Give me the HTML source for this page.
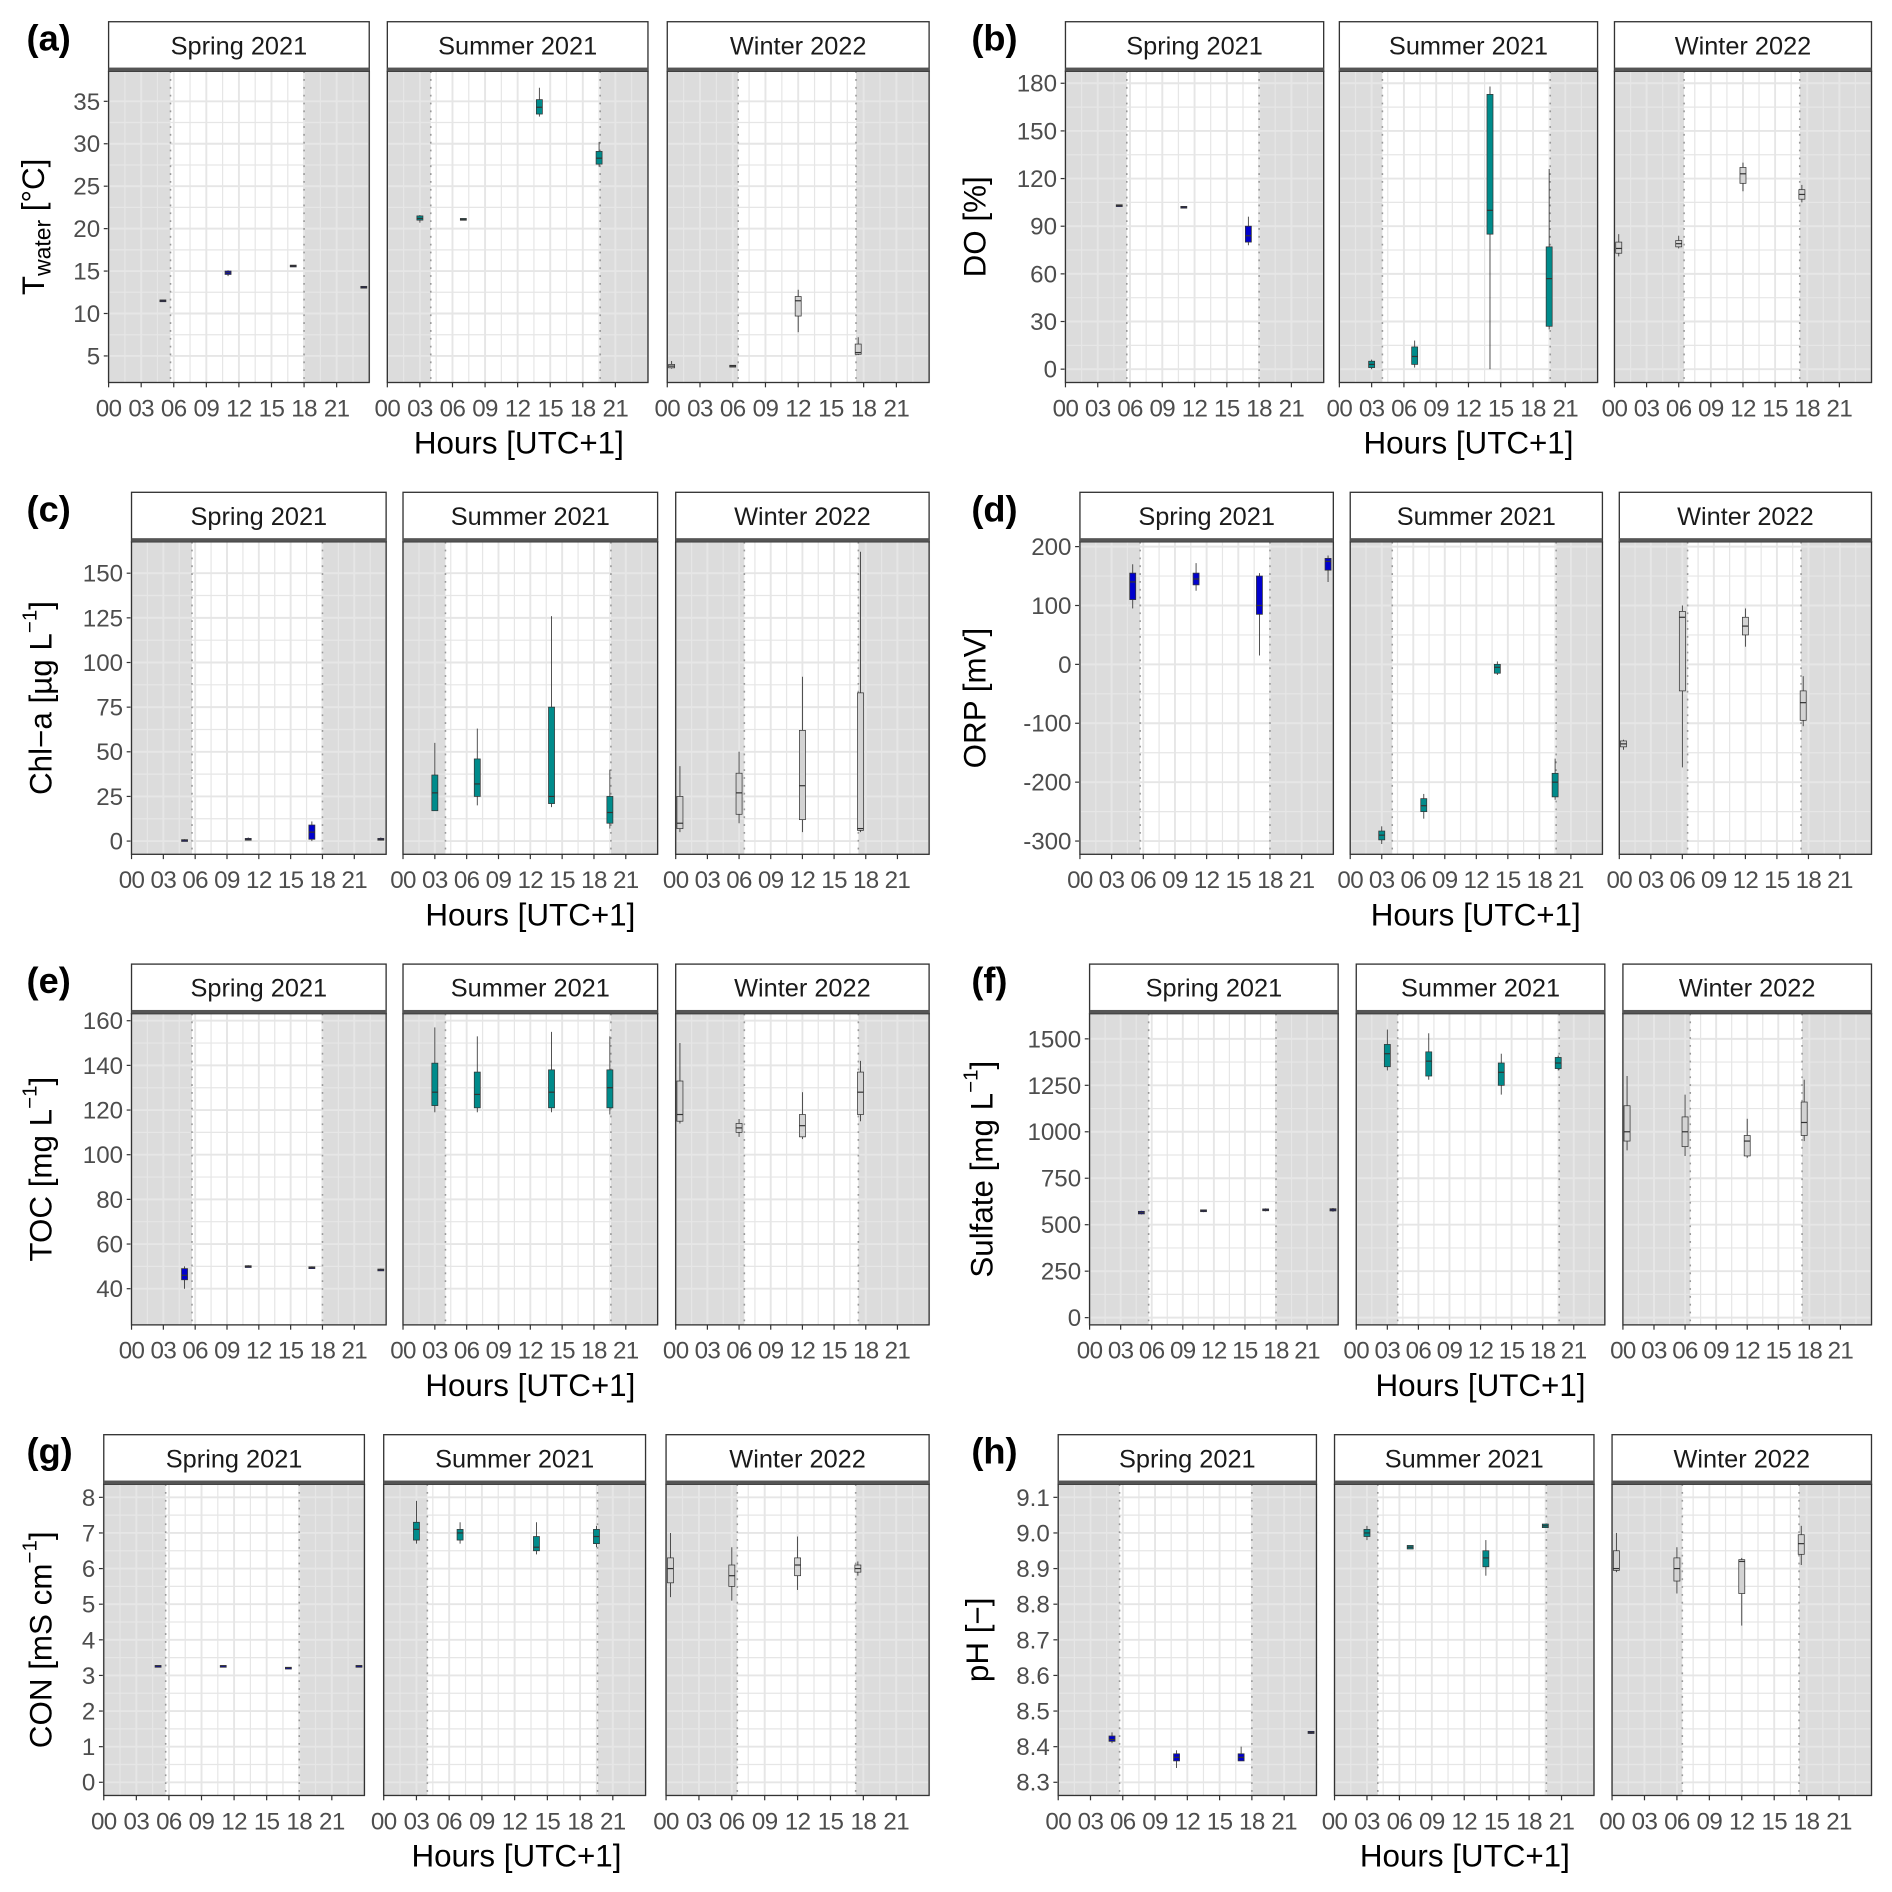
<!DOCTYPE html>
<html><head><meta charset="utf-8"><title>Water quality diel box plots</title>
<style>
html,body{margin:0;padding:0;background:#fff;}
svg{display:block;font-family:"Liberation Sans",Arial,sans-serif;}
</style></head>
<body>
<svg id="fig" xmlns="http://www.w3.org/2000/svg" width="1892" height="1892" viewBox="0 0 1568 1568"></svg>
<script>
// ---- shared data ----
const seasons = ["Spring 2021","Summer 2021","Winter 2022"];
const springHours = [5,11,17,23.5];
const summerHours = [3,7,14,19.5];
const winterHours = [0.4,6,12,17.5];
const sunrise = [5.7,4.0,6.5];
const sunset = [18.0,19.6,17.3];
const hourTicks = [0,3,6,9,12,15,18,21];
const hourTickLabels = ["00","03","06","09","12","15","18","21"];

// ---- (a) water temperature ----
const tempTicks = [5,10,15,20,25,30,35];
const tempMed = [11.5,14.8,15.6,13.1, 21.2,21.1,34.3,28.3, 3.8,3.8,11.5,5.4];
const tempQ1  = [11.4,14.6,15.5,13.0, 21.0,21.0,33.5,27.6, 3.6,3.7,9.7,5.2];
const tempQ3  = [11.6,15.0,15.7,13.2, 21.5,21.2,35.2,29.1, 4.0,3.9,12.0,6.4];
const tempLo  = [11.4,14.4,15.5,13.0, 20.7,21.0,33.2,27.3, 3.5,3.7,7.8,5.1];
const tempHi  = [11.6,15.1,15.7,13.2, 21.6,21.2,36.6,30.2, 4.4,3.9,12.8,7.2];
// ---- (b) dissolved oxygen ----
const doTicks = [0,30,60,90,120,150,180];
const doMed = [103,102,84,null, 3,8,100,57, 76,79,123,110];
const doQ1  = [102.5,101.5,80,null, 1,3,85,27, 73,77,117,107];
const doQ3  = [103.5,102.5,90,null, 5,14,173,77, 80,81,127,113];
const doLo  = [102.5,101.5,78,null, 0,1,0,25, 71,76,112,105];
const doHi  = [103.5,102.5,96,null, 6,18,178,126, 85,84,130,116];
// ---- (c) chlorophyll-a ----
const chlTicks = [0,25,50,75,100,125,150];
const chlMed = [0.5,1,5,1, 27,32,25,16, 10,27,31,7];
const chlQ1  = [0.2,0.5,1,0.5, 17,25,21,10, 7,15,12,6];
const chlQ3  = [0.8,1.5,9,1.5, 37,46,75,25, 25,38,62,83];
const chlLo  = [0.1,0.3,0,0.3, 17,20,19,7, 5,10,5,5];
const chlHi  = [1,2,11,2, 55,63,126,40, 42,50,92,162];
// ---- (d) ORP ----
const orpTicks = [-300,-200,-100,0,100,200];
const orpMed = [140,145,100,175, -290,-240,-5,-200, -135,80,65,-65];
const orpQ1  = [110,135,85,160, -298,-250,-15,-225, -140,-45,50,-95];
const orpQ3  = [155,155,150,180, -283,-228,0,-185, -130,90,80,-45];
const orpLo  = [95,125,15,140, -305,-262,-18,-230, -145,-175,30,-105];
const orpHi  = [170,172,155,185, -275,-220,5,-160, -128,100,95,-20];
// ---- (e) TOC ----
const tocTicks = [40,60,80,100,120,140,160];
const tocMed = [46,50,49.5,48.5, 128,127,128,130, 118,112,113,128];
const tocQ1  = [44,49.7,49.2,48.2, 122,121,121,121, 115,110,108,118];
const tocQ3  = [49,50.3,49.8,48.8, 141,137,138,138, 133,114,118,137];
const tocLo  = [40,49.5,49,48, 119,119,119,118, 114,108,107,115];
const tocHi  = [50,50.5,50,49, 157,153,155,153, 150,116,128,142];
// ---- (f) sulfate ----
const sulTicks = [0,250,500,750,1000,1250,1500];
const sulMed = [565,575,580,580, 1420,1380,1320,1370, 1000,1000,950,1050];
const sulQ1  = [558,570,575,574, 1350,1300,1250,1340, 950,920,870,980];
const sulQ3  = [572,580,585,586, 1470,1430,1370,1400, 1140,1080,980,1160];
const sulLo  = [555,568,572,570, 1330,1280,1200,1330, 900,870,860,950];
const sulHi  = [575,582,588,590, 1550,1530,1420,1410, 1300,1200,1070,1280];
// ---- (g) conductivity ----
const conTicks = [0,1,2,3,4,5,6,7,8];
const conMed = [3.27,3.27,3.22,3.27, 7.1,7.0,6.6,6.9, 6.0,5.8,6.1,6.0];
const conQ1  = [3.26,3.26,3.21,3.26, 6.8,6.8,6.5,6.7, 5.6,5.5,5.8,5.9];
const conQ3  = [3.28,3.28,3.23,3.28, 7.3,7.1,6.9,7.1, 6.3,6.1,6.3,6.1];
const conLo  = [3.26,3.26,3.21,3.26, 6.7,6.7,6.4,6.6, 5.2,5.1,5.4,5.8];
const conHi  = [3.28,3.28,3.23,3.28, 7.9,7.3,7.3,7.2, 7.0,6.6,6.9,6.2];
// ---- (h) pH ----
const phTicks = [8.3,8.4,8.5,8.6,8.7,8.8,8.9,9.0,9.1];
const phTickLabels = ["8.3","8.4","8.5","8.6","8.7","8.8","8.9","9.0","9.1"];
const phMed = [8.42,8.37,8.37,8.44, 9.0,8.96,8.93,9.02, 8.9,8.9,8.92,8.97];
const phQ1  = [8.415,8.36,8.36,8.437, 8.99,8.955,8.905,9.015, 8.895,8.865,8.83,8.94];
const phQ3  = [8.43,8.38,8.38,8.443, 9.01,8.965,8.95,9.025, 8.95,8.93,8.925,8.995];
const phLo  = [8.41,8.34,8.36,8.436, 8.98,8.955,8.88,9.015, 8.89,8.83,8.74,8.91];
const phHi  = [8.44,8.39,8.40,8.444, 9.02,8.965,8.98,9.025, 9.0,8.96,8.93,9.02];

const NS = "http://www.w3.org/2000/svg";
const svg = document.getElementById("fig");
function mk(tag, attrs, parent){
  const e = document.createElementNS(NS, tag);
  for (const k in attrs) e.setAttribute(k, attrs[k]);
  (parent||svg).appendChild(e);
  return e;
}
const seasonHours = [springHours, summerHours, winterHours];
const fills = ["#0000CD","#008B8B","#D3D3D3"];

const panels = [
 {L:"(a)",lx:22,facets:[[90,306],[321,537],[553,770]],st:18,top:59,bot:317,dom:[1.87,38.55],ticks:tempTicks,title:"T",sub:"water",title2:" [°C]",tx:30,d:[tempMed,tempQ1,tempQ3,tempLo,tempHi]},
 {L:"(b)",lx:805,facets:[[883,1097],[1110,1324],[1338,1551]],st:18,top:59,bot:317,dom:[-8.4,187.6],ticks:doTicks,title:"DO [%]",tx:810,d:[doMed,doQ1,doQ3,doLo,doHi]},
 {L:"(c)",lx:22,facets:[[109,320],[334,545],[560,770]],st:408,top:449,bot:708,dom:[-7.4,167.6],ticks:chlTicks,title:"Chl−a [µg L",sup:"−1",title2:"]",tx:36,d:[chlMed,chlQ1,chlQ3,chlLo,chlHi]},
 {L:"(d)",lx:805,facets:[[895,1105],[1119,1328],[1342,1551]],st:408,top:449,bot:708,dom:[-322.5,208.2],ticks:orpTicks,title:"ORP [mV]",tx:810,d:[orpMed,orpQ1,orpQ3,orpLo,orpHi]},
 {L:"(e)",lx:22,facets:[[109,320],[334,545],[560,770]],st:799,top:840,bot:1098,dom:[23.8,163.2],ticks:tocTicks,title:"TOC [mg L",sup:"−1",title2:"]",tx:36,d:[tocMed,tocQ1,tocQ3,tocLo,tocHi]},
 {L:"(f)",lx:805,facets:[[903,1109],[1124,1330],[1345,1551]],st:799,top:840,bot:1098,dom:[-39,1636],ticks:sulTicks,title:"Sulfate [mg L",sup:"−1",title2:"]",tx:816,d:[sulMed,sulQ1,sulQ3,sulLo,sulHi]},
 {L:"(g)",lx:22,facets:[[86,302],[318,535],[552,770]],st:1189,top:1230,bot:1488,dom:[-0.37,8.37],ticks:conTicks,title:"CON [mS cm",sup:"−1",title2:"]",tx:36,d:[conMed,conQ1,conQ3,conLo,conHi]},
 {L:"(h)",lx:805,facets:[[877,1091],[1106,1321],[1336,1551]],st:1189,top:1230,bot:1488,dom:[8.263,9.137],ticks:phTicks,labels:phTickLabels,title:"pH [−]",tx:812,d:[phMed,phQ1,phQ3,phLo,phHi]}
];

panels.forEach((p, pi) => {
  const g = mk("g", {});
  
  
  const yS = v => p.bot - (v - p.dom[0]) / (p.dom[1] - p.dom[0]) * (p.bot - p.top);
  const lt = mk("text", {x:p.lx, y:p.st+24, "font-size":30, "font-weight":"bold", fill:"#000"}, g);
  lt.textContent = p.L;
  
  
  const cy = (p.top + p.bot) / 2;
  const yt = mk("text", {x:p.tx, y:cy, "font-size":26, fill:"#000", "text-anchor":"middle", "dominant-baseline":"middle", transform:`rotate(-90 ${p.tx} ${cy})`}, g);
  
  
  const t1 = mk("tspan", {}, yt); t1.textContent = p.title;
  if (p.sub) { const s = mk("tspan", {"font-size":19, dy:7}, yt); s.textContent = p.sub; const s2 = mk("tspan", {dy:-7}, yt); s2.textContent = p.title2; }
  if (p.sup) { const s = mk("tspan", {"font-size":17, dy:-10}, yt); s.textContent = p.sup; const s2 = mk("tspan", {dy:10}, yt); s2.textContent = p.title2; }
  const x0 = p.facets[0][0];
  p.ticks.forEach((t, ti) => {
    const y = yS(t);
    mk("line", {x1:x0-4, x2:x0, y1:y, y2:y, stroke:"#333", "stroke-width":1}, g);
    const tl = mk("text", {x:x0-7, y:y+7, "font-size":20, fill:"#4d4d4d", "text-anchor":"end"}, g);
    tl.textContent = p.labels ? p.labels[ti] : String(t);
    
    
  });
  const xt = mk("text", {x:(p.facets[0][0]+p.facets[2][1])/2, y:p.bot+59, "font-size":26, fill:"#000", "text-anchor":"middle"}, g);
  xt.textContent = "Hours [UTC+1]";
  
  

  p.facets.forEach((f, si) => {
    const fg = mk("g", {}, g);
    
    
    const w = f[1] - f[0];
    const xS = h => f[0] + h / 24 * w;
    mk("rect", {x:f[0], y:p.top, width:w, height:p.bot-p.top, fill:"#fff"}, fg);
    mk("rect", {x:xS(0), y:p.top, width:xS(sunrise[si])-xS(0), height:p.bot-p.top, fill:"#dcdcdc"}, fg);
    mk("rect", {x:xS(sunset[si]), y:p.top, width:xS(24)-xS(sunset[si]), height:p.bot-p.top, fill:"#dcdcdc"}, fg);
    const gridC = "#e6e6e6";
    for (let h = 0; h <= 24; h += 1.5) {
      const major = (h % 3 === 0);
      mk("line", {x1:xS(h), x2:xS(h), y1:p.top, y2:p.bot, stroke:gridC, "stroke-width":major?1.6:1.0}, fg);
    }
    for (let k = 0; k < p.ticks.length; k++) {
      const y = yS(p.ticks[k]);
      mk("line", {x1:f[0], x2:f[1], y1:y, y2:y, stroke:gridC, "stroke-width":1.6}, fg);
      if (k < p.ticks.length - 1) {
        const ym = yS((p.ticks[k] + p.ticks[k+1]) / 2);
        mk("line", {x1:f[0], x2:f[1], y1:ym, y2:ym, stroke:gridC, "stroke-width":1.0}, fg);
      }
    }
    [sunrise[si], sunset[si]].forEach(h => {
      mk("line", {x1:xS(h), x2:xS(h), y1:p.top, y2:p.bot, stroke:"#999", "stroke-width":1.3, "stroke-dasharray":"1.5 5"}, fg);
    });
    for (let i = 0; i < 4; i++) {
      const idx = si * 4 + i;
      const med = p.d[0][idx];
      if (med === null || med === undefined) continue;
      const q1 = p.d[1][idx], q3 = p.d[2][idx], lo = p.d[3][idx], hi = p.d[4][idx];
      const xc = xS(seasonHours[si][i]);
      const bw = 5;
      const wh = mk("line", {x1:xc, x2:xc, y1:yS(lo), y2:yS(hi), stroke:"#333", "stroke-width":0.7}, fg);
      
      
      const top = yS(q3), bot = yS(q1);
      const bx = mk("rect", {x:xc-bw/2, y:top, width:bw, height:Math.max(bot-top,1.5), fill:fills[si], stroke:"#333", "stroke-width":0.6}, fg);
      
      
      mk("line", {x1:xc-bw/2, x2:xc+bw/2, y1:yS(med), y2:yS(med), stroke:"#333", "stroke-width":1}, fg);
    }
    mk("rect", {x:f[0], y:p.top, width:w, height:p.bot-p.top, fill:"none", stroke:"#333", "stroke-width":1.1}, fg);
    mk("rect", {x:f[0], y:p.st, width:w, height:p.top-p.st, fill:"#fff", stroke:"#333", "stroke-width":1.1}, fg);
    mk("rect", {x:f[0], y:p.top-3, width:w, height:3, fill:"#555"}, fg);
    const stt = mk("text", {x:f[0]+w/2, y:p.st+27, "font-size":21, fill:"#1a1a1a", "text-anchor":"middle"}, fg);
    stt.textContent = seasons[si];
    
    
    hourTicks.forEach((h, hi) => {
      mk("line", {x1:xS(h), x2:xS(h), y1:p.bot, y2:p.bot+4, stroke:"#333", "stroke-width":1}, fg);
      const xl = mk("text", {x:xS(h), y:p.bot+28, "font-size":20, fill:"#4d4d4d", "text-anchor":"middle", "letter-spacing":"-0.5"}, fg);
      xl.textContent = hourTickLabels[hi];
      
      
    });
  });
});
</script>
</body></html>
